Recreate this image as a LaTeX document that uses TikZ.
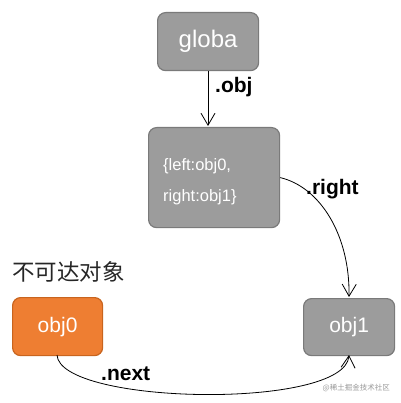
\documentclass[tikz,border=0pt]{standalone}
\usepackage{fontspec}
\setmainfont{Liberation Sans}
\newfontfamily\cjk{Noto Sans CJK SC}
\usetikzlibrary{arrows.meta}
\definecolor{boxgrey}{HTML}{9C9C9C}
\definecolor{boxedge}{HTML}{7A7A7A}
\definecolor{orangefill}{HTML}{EE7E32}
\definecolor{orangeedge}{HTML}{C8641E}
\tikzset{
  objbox/.style={draw=boxedge, fill=boxgrey, line width=1.2pt, rounded corners=8pt, text=white, inner sep=0pt, anchor=north west},
  hotbox/.style={objbox, draw=orangeedge, fill=orangefill},
  link/.style={line width=0.8pt, -{Straight Barb[length=12pt,width=14pt]}},
  lbl/.style={font=\bfseries\fontsize{21}{24}\selectfont, inner sep=0pt}
}
\begin{document}
\begin{tikzpicture}[x=1pt,y=-1pt]
\useasboundingbox (0,0) rectangle (400,403);
\node[objbox, minimum width=101pt, minimum height=58pt, font=\fontsize{24}{28}\selectfont] (g) at (157,12) {globa};
\node[objbox, minimum width=131pt, minimum height=100pt] (m) at (148,127) {};
\node[anchor=west, text=white, font=\fontsize{16.5}{19}\selectfont, inner sep=0pt] (m1) at (163,166) {\{left:obj0,};
\node[anchor=west, text=white, font=\fontsize{16.5}{19}\selectfont, inner sep=0pt] (m2) at (163,197) {right:obj1\}};
\node[hotbox, minimum width=90pt, minimum height=58pt, font=\fontsize{21}{24}\selectfont] (o0) at (12,297) {obj0};
\node[objbox, minimum width=91pt, minimum height=57pt, font=\fontsize{21}{24}\selectfont] (o1) at (303,298) {obj1};
\node[anchor=west, inner sep=0pt, font=\cjk\fontsize{22.5}{26}\selectfont, text=black!85] (t) at (12,272) {不可达对象};
\coordinate (ge) at (208,126);
\draw[link] (g.south -| ge) -- (ge);
\node[lbl, anchor=west] (lo) at (215,87) {.obj};
\coordinate (re) at (349,297);
\draw[link] (m.east) .. controls (320,187) and (350,235) .. (re);
\node[lbl, anchor=west] (lr) at (306,189) {.right};
\coordinate (s0) at (57,355);
\coordinate (e1) at (349,355);
\draw[link] (s0) .. controls (60,405) and (345,410) .. (e1);
\node[lbl, anchor=west] (ln) at (101,374) {.next};
\node[anchor=east, inner sep=0pt, text=black!40, font=\cjk\fontsize{7.5}{9}\selectfont] (wm) at (390,388) {@稀土掘金技术社区};
\end{tikzpicture}
\end{document}
